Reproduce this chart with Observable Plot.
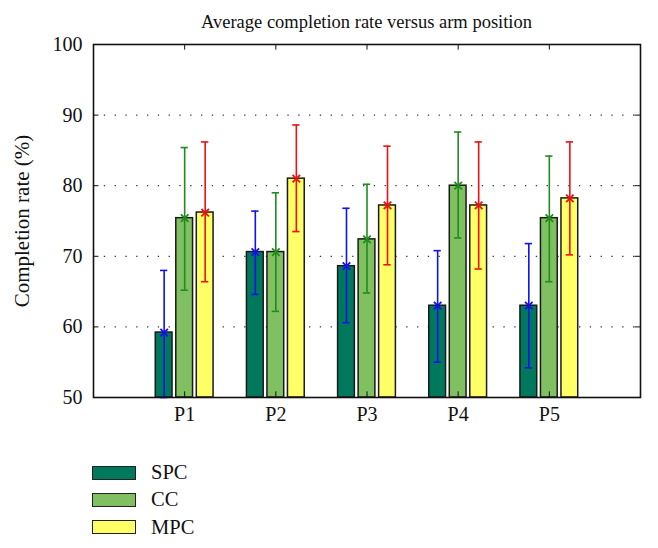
<!DOCTYPE html>
<html>
<head>
<meta charset="utf-8">
<script src="https://cdn.jsdelivr.net/npm/d3@7"></script>
<script src="https://cdn.jsdelivr.net/npm/@observablehq/plot@0.6"></script>
<style>
  body { margin: 0; background: #fff; font-family: "Liberation Serif", "DejaVu Serif", serif; }
  #wrap { position: relative; width: 658px; height: 548px; }
  #title { position: absolute; left: 93px; width: 547px; top: 12px; text-align: center; font-size: 18.5px; line-height: 20px; color: #111; }
  #chart { position: absolute; left: 0; top: 34px; }
  #legend { position: absolute; left: 92px; top: 459px; }
  .item { display: flex; align-items: center; height: 27.3px; font-size: 20.5px; color: #111; }
  .sw { width: 42px; height: 12px; border: 1.5px solid #222; margin-right: 15px; }
</style>
</head>
<body>
<div id="wrap">
  <div id="title">Average completion rate versus arm position</div>
  <div id="chart"></div>
  <div id="legend"></div>
</div>
<script>
const positions = ["P1", "P2", "P3", "P4", "P5"];
const series = ["SPC", "CC", "MPC"];
const fills = ["#00785C", "#80C060", "#FFFF66"];
const errColors = ["#1010F0", "#1E8C1E", "#F01010"];
const spcMean = [59.2, 70.6, 68.6, 63.0, 63.0];
const spcLow  = [50.0, 64.6, 60.6, 55.0, 54.2];
const spcHigh = [68.0, 76.4, 76.8, 70.8, 71.8];
const ccMean  = [75.4, 70.6, 72.4, 80.0, 75.4];
const ccLow   = [65.2, 62.2, 64.8, 72.6, 66.4];
const ccHigh  = [85.4, 79.0, 80.2, 87.6, 84.2];
const mpcMean = [76.2, 81.0, 77.2, 77.2, 78.2];
const mpcLow  = [66.4, 73.5, 68.8, 68.2, 70.2];
const mpcHigh = [86.2, 88.6, 85.6, 86.2, 86.2];
const yTicks = [50, 60, 70, 80, 90, 100];
const gridTicks = [60, 70, 80, 90];

const means = [spcMean, ccMean, mpcMean];
const lows = [spcLow, ccLow, mpcLow];
const highs = [spcHigh, ccHigh, mpcHigh];
const offsets = [-0.225, 0, 0.225];
const halfW = 0.092;
const capW = 0.04;

const data = [];
positions.forEach((p, i) => {
  series.forEach((s, j) => {
    data.push({pos: p, series: s, x: i + 1 + offsets[j], mean: means[j][i], lo: lows[j][i], hi: highs[j][i], fill: fills[j], ec: errColors[j]});
  });
});
const posIdx = positions.map((p, i) => i + 1);

const plot = Plot.plot({
  width: 658,
  height: 406,
  marginTop: 10,
  marginBottom: 43,
  marginLeft: 93,
  marginRight: 18,
  style: {fontFamily: "Liberation Serif, DejaVu Serif, serif", fontSize: "20px", color: "#111", background: "#fff"},
  x: {domain: [0, 6], ticks: posIdx, tickFormat: i => positions[i - 1], tickSize: 0, tickPadding: 9, label: null},
  y: {domain: [50, 100], ticks: yTicks, tickSize: 0, tickPadding: 11, label: null},
  marks: [
    Plot.ruleY(gridTicks, {stroke: "#333", strokeWidth: 1.3, strokeDasharray: "1.3 9.5"}),
    Plot.rectY(data, {x1: d => d.x - halfW, x2: d => d.x + halfW, y1: 50, y2: "mean", fill: "fill", stroke: "#1a1a1a", strokeWidth: 1.5}),
    Plot.ruleX(data, {x: "x", y1: "lo", y2: "hi", stroke: "ec", strokeWidth: 1.6}),
    Plot.ruleY(data, {y: "lo", x1: d => d.x - capW, x2: d => d.x + capW, stroke: "ec", strokeWidth: 1.6}),
    Plot.ruleY(data, {y: "hi", x1: d => d.x - capW, x2: d => d.x + capW, stroke: "ec", strokeWidth: 1.6}),
    Plot.dot(data, {x: "x", y: "mean", symbol: "times", r: 3.5, stroke: "ec", strokeWidth: 1.8}),
    Plot.ruleY(yTicks, {x1: 0, x2: 0.06, stroke: "#111", strokeWidth: 1}),
    Plot.ruleY(yTicks, {x1: 6, x2: 5.94, stroke: "#111", strokeWidth: 1}),
    Plot.ruleX(posIdx, {y1: 100, y2: 99.2, stroke: "#111", strokeWidth: 1}),
    Plot.ruleX(posIdx, {y1: 50, y2: 50.8, stroke: "#111", strokeWidth: 1}),
    Plot.text(["Completion rate (%)"], {frameAnchor: "left", textAnchor: "middle", dx: -71, rotate: -90, fontSize: 21, fill: "#111"}),
    Plot.frame({stroke: "#111", strokeWidth: 1.6})
  ]
});
document.getElementById("chart").appendChild(plot);

const legend = document.getElementById("legend");
series.forEach((s, j) => {
  const item = document.createElement("div");
  item.className = "item";
  const sw = document.createElement("div");
  sw.className = "sw";
  sw.style.background = fills[j];
  const lab = document.createElement("span");
  lab.textContent = s;
  item.appendChild(sw);
  item.appendChild(lab);
  legend.appendChild(item);
});
</script>
</body>
</html>
